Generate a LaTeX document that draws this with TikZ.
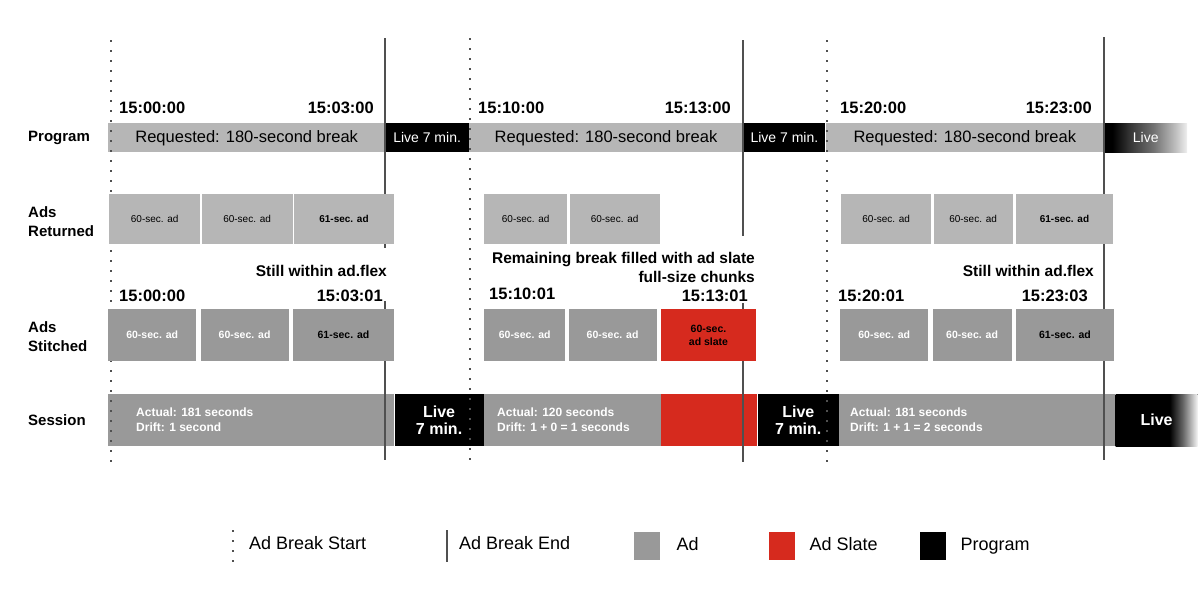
\documentclass[tikz,border=0pt]{standalone}
\usepackage{fontspec}
\setmainfont{Liberation Sans}
\usepackage{tikz}
\usetikzlibrary{positioning}
\definecolor{progGray}{RGB}{182,182,182}
\definecolor{adGray}{RGB}{153,153,153}
\definecolor{slateRed}{RGB}{214,42,30}
\definecolor{markGray}{RGB}{80,80,80}
\pgfdeclarehorizontalshading{progFade}{100bp}{color(0bp)=(black); color(30bp)=(black); color(40bp)=(black!80); color(55bp)=(black!55); color(68bp)=(black!25); color(75bp)=(black!6); color(100bp)=(white)}
\pgfdeclarehorizontalshading{sessFade}{100bp}{color(0bp)=(black); color(58bp)=(black); color(66bp)=(black!60); color(75bp)=(black!4); color(100bp)=(white)}

\begin{document}
\begin{tikzpicture}[
    x=1pt, y=-1pt,
    bar/.style={rectangle, inner sep=0pt, anchor=north west},
    progbar/.style={bar, fill=progGray, minimum height=29pt, text height=12pt, text depth=3pt, font=\fontsize{16.5}{19}\selectfont},
    livebar/.style={bar, fill=black, text=white, minimum height=29pt, font=\fontsize{14}{16}\selectfont},
    retbox/.style={bar, fill=progGray, minimum height=50pt, font=\fontsize{10}{12}\selectfont},
    stbox/.style={bar, fill=adGray, text=white, minimum height=52pt, align=center, font=\bfseries\fontsize{10.5}{13}\selectfont},
    sessbar/.style={bar, fill=adGray, minimum height=52pt},
    sesslive/.style={bar, fill=black, text=white, minimum height=52pt, align=center, font=\bfseries\fontsize{16}{17}\selectfont},
    sesstext/.style={anchor=west, inner sep=0pt, text=white, align=left, font=\bfseries\fontsize{12}{15}\selectfont},
    rowlabel/.style={anchor=west, inner sep=0pt, align=left, font=\bfseries\fontsize{15}{19}\selectfont},
    timelabel/.style={inner sep=0pt, font=\bfseries\fontsize{16.5}{19}\selectfont},
    note/.style={inner sep=0pt, align=right, font=\bfseries\fontsize{15.5}{19}\selectfont},
    startline/.style={draw=markGray, line width=2pt, dash pattern=on 2pt off 8pt},
    endline/.style={draw=markGray, line width=1.2pt},
    legbox/.style={bar, minimum width=26pt, minimum height=28pt},
    legtext/.style={anchor=west, inner sep=0pt, text height=13pt, text depth=4pt, font=\fontsize{18}{20}\selectfont}
  ]
    \useasboundingbox (0,0) rectangle (1200,600);

    % Row labels
    \node[rowlabel] (lprog) at (28,138) {Program};
    \node[rowlabel] (lret) at (28,221.5) {Ads\\Returned};
    \node[rowlabel] (lst) at (28,337) {Ads\\Stitched};
    \node[rowlabel] (lsess) at (28,420) {Session};

    % Program row
    \node[progbar, minimum width=277pt] (prog1) at (108,123) {Requested: 180-second break};
    \node[livebar, minimum width=83pt, right=0pt of prog1] (live1) {Live 7 min.};
    \node[progbar, minimum width=274pt, right=0pt of live1] (prog2) {Requested: 180-second break};
    \node[livebar, minimum width=82pt, right=0pt of prog2] (live2) {Live 7 min.};
    \node[progbar, minimum width=278pt, right=0pt of live2] (prog3) {Requested: 180-second break};
    \node[livebar, shade, shading=progFade, minimum width=83pt, right=0pt of prog3] (live3) {Live};

    % Session row
    \node[sessbar, minimum width=286pt] (ses1) at (108,394) {};
    \node[sesslive, minimum width=89pt, right=0pt of ses1] (slive1) {Live\\7 min.};
    \node[sessbar, minimum width=177pt, right=0pt of slive1] (ses2) {};
    \node[sessbar, fill=slateRed, minimum width=96pt, right=0pt of ses2] (slate) {};
    \node[sesslive, minimum width=81pt, right=0pt of slate] (slive2) {Live\\7 min.};
    \node[sessbar, minimum width=276pt, right=0pt of slive2] (ses3) {};
    \node[sesslive, shade, shading=sessFade, minimum width=82pt, right=0pt of ses3] (slive3) {Live};
    \node[sesstext] (act1) at (136,419.5) {Actual: 181 seconds\\Drift: 1 second};
    \node[sesstext] (act2) at (497,419.5) {Actual: 120 seconds\\Drift: 1 + 0 = 1 seconds};
    \node[sesstext] (act3) at (850,419.5) {Actual: 181 seconds\\Drift: 1 + 1 = 2 seconds};

    % Ad break start / end marks
    \draw[startline] (111,40) -- (111,462);
    \draw[startline] (470,38) -- (470,462);
    \draw[startline] (827,40) -- (827,462);
    \draw[endline] (385,38) -- (385,248);
    \draw[endline] (385,301) -- (385,460);
    \draw[endline] (743,40) -- (743,236);
    \draw[endline] (743,303) -- (743,462);
    \draw[endline] (1104,37) -- (1104,460);

    % Requested times
    \node[timelabel, anchor=west] (t1s) at (119,107.5) {15:00:00};
    \node[timelabel, anchor=east] (t1e) at (374,107.5) {15:03:00};
    \node[timelabel, anchor=west] (t2s) at (478,107.5) {15:10:00};
    \node[timelabel, anchor=east] (t2e) at (731,107.5) {15:13:00};
    \node[timelabel, anchor=west] (t3s) at (840,107.5) {15:20:00};
    \node[timelabel, anchor=east] (t3e) at (1092,107.5) {15:23:00};

    % Ads returned
    \node[retbox, minimum width=91pt] (ret1a) at (109,194) {60-sec. ad};
    \node[retbox, minimum width=91pt, right=1pt of ret1a] (ret1b) {60-sec. ad};
    \node[retbox, minimum width=100pt, right=1pt of ret1b] (ret1c) {\bfseries 61-sec. ad};
    \node[retbox, minimum width=83pt] (ret2a) at (484,194) {60-sec. ad};
    \node[retbox, minimum width=90pt, right=2pt of ret2a] (ret2b) {60-sec. ad};
    \node[retbox, minimum width=90pt] (ret3a) at (841,194) {60-sec. ad};
    \node[retbox, minimum width=79pt, right=2pt of ret3a] (ret3b) {60-sec. ad};
    \node[retbox, minimum width=97pt, right=3pt of ret3b] (ret3c) {\bfseries 61-sec. ad};

    % Notes
    \node[note, anchor=east] (flex1) at (387,270.5) {Still within ad.flex};
    \node[note, anchor=east] (fill2) at (755,267.5) {Remaining break filled with ad slate\\full-size chunks};
    \node[note, anchor=east] (flex3) at (1094,270.5) {Still within ad.flex};

    % Stitched times
    \node[timelabel, anchor=west] (s1s) at (119,295.5) {15:00:00};
    \node[timelabel, anchor=east] (s1e) at (383,295.5) {15:03:01};
    \node[timelabel, anchor=west] (s2s) at (489,294) {15:10:01};
    \node[timelabel, anchor=east] (s2e) at (748,295.5) {15:13:01};
    \node[timelabel, anchor=west] (s3s) at (838,295.5) {15:20:01};
    \node[timelabel, anchor=east] (s3e) at (1088,295.5) {15:23:03};

    % Ads stitched
    \node[stbox, minimum width=88pt] (st1a) at (108,309) {60-sec. ad};
    \node[stbox, minimum width=88pt, right=4pt of st1a] (st1b) {60-sec. ad};
    \node[stbox, text=black, minimum width=101pt, right=4pt of st1b] (st1c) {61-sec. ad};
    \node[stbox, minimum width=81pt] (st2a) at (484,309) {60-sec. ad};
    \node[stbox, minimum width=88pt, right=3pt of st2a] (st2b) {60-sec. ad};
    \node[stbox, fill=slateRed, text=black, minimum width=95pt, right=4pt of st2b] (st2c) {60-sec.\\ad slate};
    \node[stbox, minimum width=88pt] (st3a) at (840,309) {60-sec. ad};
    \node[stbox, minimum width=79pt, right=4pt of st3a] (st3b) {60-sec. ad};
    \node[stbox, text=black, minimum width=98pt, right=4pt of st3b] (st3c) {61-sec. ad};

    % Legend
    \draw[startline] (233,530) -- (233,562);
    \node[legtext] (legstart) at (249,545) {Ad Break Start};
    \draw[endline] (447,530) -- (447,562);
    \node[legtext] (legend) at (459,545) {Ad Break End};
    \node[legbox, fill=adGray] (legad) at (634,532) {};
    \node[legtext, right=16pt of legad] (legadt) {Ad};
    \node[legbox, fill=slateRed] (legslate) at (769,532) {};
    \node[legtext, right=14pt of legslate] (legslatet) {Ad Slate};
    \node[legbox, fill=black] (legprog) at (920,532) {};
    \node[legtext, right=14pt of legprog] (legprogt) {Program};
  \end{tikzpicture}
\end{document}
